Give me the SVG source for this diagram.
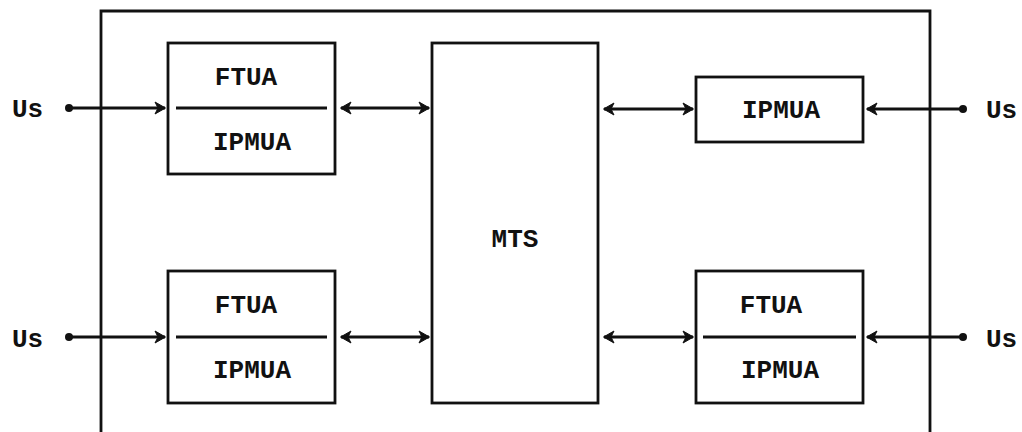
<svg xmlns="http://www.w3.org/2000/svg" width="1022" height="432" viewBox="0 0 1022 432">
<style>
.box{fill:none;stroke:#111;stroke-width:2.8}
.div{stroke:#111;stroke-width:2.8}
.con{stroke:#111;stroke-width:2.8;fill:none}
.t{font-family:"Liberation Mono","Courier New",monospace;font-weight:bold;font-size:26px;fill:#111}
.m{text-anchor:middle}
</style>
<defs>
<marker id="ah" markerUnits="userSpaceOnUse" markerWidth="14" markerHeight="14" viewBox="0 0 14 14" refX="12" refY="7" orient="auto-start-reverse">
<path d="M2,1 L12.5,7 L2,13 L5,7 z" fill="#111" stroke="#111" stroke-width="1" stroke-linejoin="round"/>
</marker>
</defs>
<rect width="1022" height="432" fill="#fff"/>
<g id="outer"><path class="box" d="M101,432 V11 H930 V432"/></g>
<g id="ua-top-left">
<rect class="box" x="168" y="43" width="167" height="131"/>
<line class="div" x1="176" y1="108" x2="327" y2="108"/>
<text class="t m" x="246" y="85">FTUA</text>
<text class="t m" x="252" y="150">IPMUA</text>
</g>
<g id="ua-bottom-left">
<rect class="box" x="168" y="271" width="167" height="132"/>
<line class="div" x1="176" y1="337" x2="327" y2="337"/>
<text class="t m" x="246" y="313">FTUA</text>
<text class="t m" x="252" y="378">IPMUA</text>
</g>
<g id="mts">
<rect class="box" x="432" y="43" width="166" height="360"/>
<text class="t m" x="515" y="247">MTS</text>
</g>
<g id="ua-top-right">
<rect class="box" x="696" y="77" width="167" height="65"/>
<text class="t m" x="781" y="118">IPMUA</text>
</g>
<g id="ua-bottom-right">
<rect class="box" x="696" y="271" width="167" height="132"/>
<line class="div" x1="703" y1="337" x2="856" y2="337"/>
<text class="t m" x="771" y="313">FTUA</text>
<text class="t m" x="780" y="378">IPMUA</text>
</g>
<g id="users">
<text class="t" x="12" y="117">Us</text>
<text class="t" x="12" y="347">Us</text>
<text class="t" x="986" y="118">Us</text>
<text class="t" x="986" y="347">Us</text>
<circle cx="69" cy="108" r="4" fill="#111"/>
<circle cx="69" cy="337" r="4" fill="#111"/>
<circle cx="963" cy="109" r="4" fill="#111"/>
<circle cx="963" cy="337" r="4" fill="#111"/>
</g>
<g id="connectors">
<line class="con" x1="69" y1="108" x2="165" y2="108" marker-end="url(#ah)"/>
<line class="con" x1="69" y1="337" x2="165" y2="337" marker-end="url(#ah)"/>
<line class="con" x1="341" y1="108" x2="429" y2="108" marker-start="url(#ah)" marker-end="url(#ah)"/>
<line class="con" x1="341" y1="337" x2="429" y2="337" marker-start="url(#ah)" marker-end="url(#ah)"/>
<line class="con" x1="604" y1="109" x2="693" y2="109" marker-start="url(#ah)" marker-end="url(#ah)"/>
<line class="con" x1="604" y1="337" x2="693" y2="337" marker-start="url(#ah)" marker-end="url(#ah)"/>
<line class="con" x1="963" y1="109" x2="867" y2="109" marker-end="url(#ah)"/>
<line class="con" x1="963" y1="337" x2="867" y2="337" marker-end="url(#ah)"/>
</g>
</svg>
